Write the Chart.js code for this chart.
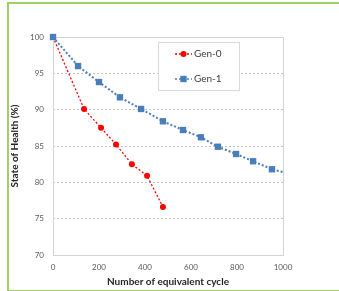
<!DOCTYPE html>
<html>
<head>
<meta charset="utf-8">
<script src="https://cdn.jsdelivr.net/npm/chart.js@4"></script>
<style>
  body { margin: 0; background: #fff; }
  #wrap { position: relative; width: 339px; height: 291px; }
  #frame { position: absolute; left: 7px; top: 2px; width: 340px; height: 286px;
           border: 2px solid #9fd068; border-right: none; }
  canvas { position: absolute; left: 0; top: 0; }
</style>
</head>
<body>
<div id="wrap">
  <div id="frame"></div>
  <canvas id="linechart" width="339" height="291"></canvas>
</div>
<script>
var seriesNames = ['Gen-0', 'Gen-1'];
var gen0Cycles = [0, 135, 209, 274, 343, 409, 478];
var gen0Soh = [100, 90.1, 87.5, 85.2, 82.5, 80.9, 76.6];
var gen1Cycles = [0, 109, 200, 291, 383, 478, 565, 643, 717, 796, 870, 952, 1000];
var gen1Soh = [100, 96.0, 93.8, 91.7, 90.1, 88.4, 87.2, 86.2, 84.9, 83.9, 82.9, 81.8, 81.4];
var xTicks = [0, 200, 400, 600, 800, 1000];
var yTicks = [70, 75, 80, 85, 90, 95, 100];

function toPoints(xs, ys)
{
    var pts = [];
    for (var i = 0; i < xs.length; i++) {
        pts.push({x: xs[i], y: ys[i]});
    }
    return pts;
}

// last Gen-1 point only carries the line to the frame, no marker
var gen1Radius = gen1Cycles.map(function(c, i) { return i === gen1Cycles.length - 1 ? 0 : 4.5; });

var frameBox = {
    id: 'frameBox',
    beforeDatasetsDraw: function(chart) {
        var ctx = chart.ctx;
        var a = chart.chartArea;
        ctx.save();
        ctx.strokeStyle = '#d4d4d4';
        ctx.lineWidth = 1;
        ctx.strokeRect(a.left + 0.5, a.top + 0.5, a.right - a.left, a.bottom - a.top);
        ctx.restore();
    }
};

var boxLegend = {
    id: 'boxLegend',
    afterDraw: function(chart) {
        var ctx = chart.ctx;
        ctx.save();
        ctx.fillStyle = '#fff';
        ctx.fillRect(158, 42, 81, 48);
        ctx.strokeStyle = '#d9d9d9';
        ctx.lineWidth = 1;
        ctx.strokeRect(158.5, 42.5, 81, 48);
        var rows = [54, 79];
        chart.data.datasets.forEach(function(ds, i) {
            var y = rows[i];
            ctx.strokeStyle = ds.borderColor;
            ctx.lineWidth = 1.5;
            ctx.setLineDash([2, 2]);
            ctx.beginPath();
            ctx.moveTo(175, y);
            ctx.lineTo(192, y);
            ctx.stroke();
            ctx.setLineDash([]);
            ctx.fillStyle = ds.backgroundColor;
            Chart.helpers.drawPoint(ctx, {pointStyle: ds.pointStyle, radius: i === 0 ? 3 : 4.5, borderWidth: 0}, 183.5, y);
            ctx.fillStyle = '#404040';
            ctx.font = '10px Lato';
            ctx.textBaseline = 'middle';
            ctx.fillText(ds.label, 194, y);
        });
        ctx.restore();
    }
};

var ctx = document.getElementById('linechart').getContext('2d');
new Chart(ctx, {
    type: 'line',
    data: {
        datasets: [
            {
                label: seriesNames[0],
                data: toPoints(gen0Cycles, gen0Soh),
                borderColor: '#ff0000',
                backgroundColor: '#ff0000',
                borderWidth: 1.3,
                borderDash: [2, 2],
                pointStyle: 'circle',
                pointRadius: 3,
                pointBorderWidth: 0,
                clip: false,
                order: 1
            },
            {
                label: seriesNames[1],
                data: toPoints(gen1Cycles, gen1Soh),
                borderColor: '#4a7ebb',
                backgroundColor: '#4a7ebb',
                borderWidth: 2,
                borderDash: [2, 2],
                pointStyle: 'rect',
                pointRadius: gen1Radius,
                pointBorderWidth: 0,
                clip: false,
                order: 0
            }
        ]
    },
    options: {
        responsive: false,
        animation: false,
        layout: { padding: { left: 0, right: 56, top: 37, bottom: 0 } },
        plugins: { legend: { display: false }, tooltip: { enabled: false } },
        scales: {
            x: {
                type: 'linear',
                min: 0,
                max: 1000,
                afterFit: function(scale) { scale.height = 36; },
                afterBuildTicks: function(scale) { scale.ticks = xTicks.map(function(v) { return {value: v}; }); },
                grid: { display: false, drawTicks: false },
                border: { display: false },
                ticks: { padding: 8, color: '#595959', font: { family: 'Lato', size: 8 }, maxRotation: 0,
                         callback: function(v) { return String(v); } },
                title: { display: true, text: 'Number of equivalent cycle', color: '#262626',
                         font: { family: 'Lato', size: 10, weight: 'bold' }, padding: { top: 0, bottom: 3 } }
            },
            y: {
                min: 70,
                max: 100,
                afterFit: function(scale) { scale.width = 53; },
                afterBuildTicks: function(scale) { scale.ticks = yTicks.map(function(v) { return {value: v}; }); },
                grid: { color: '#c4c4c4', lineWidth: 1, drawTicks: false },
                border: { display: false, dash: [2, 2] },
                ticks: { padding: 9, color: '#595959', font: { family: 'Lato', size: 8 } },
                title: { display: true, text: 'State of Health (%)', color: '#262626',
                         font: { family: 'Lato', size: 10, weight: 'bold' }, padding: { top: 9, bottom: 0 } }
            }
        }
    },
    plugins: [frameBox, boxLegend]
});
</script>
</body>
</html>
